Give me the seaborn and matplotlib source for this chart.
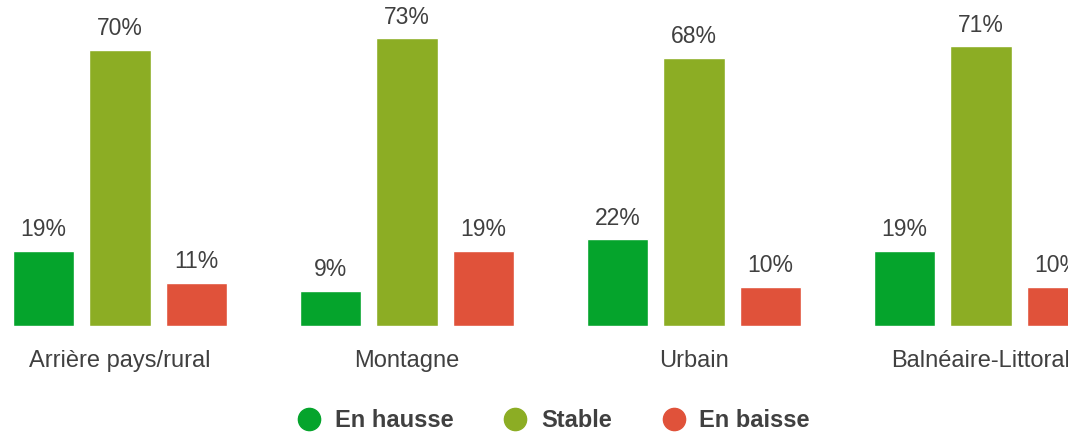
import matplotlib
matplotlib.use("Agg")
import matplotlib.pyplot as plt
from matplotlib.lines import Line2D
import seaborn as sns
import pandas as pd

# Evolution by destination type
zones = ["Arrière pays/rural", "Montagne", "Urbain", "Balnéaire-Littoral"]
tendances = ["En hausse", "Stable", "En baisse"]
en_hausse = [19, 9, 22, 19]
stable = [70, 73, 68, 71]
en_baisse = [11, 19, 10, 10]
couleurs = ["#05a42c", "#8cad24", "#e0523a"]

df = pd.DataFrame({
    "zone": zones * 3,
    "tendance": [t for t in tendances for _ in zones],
    "valeur": en_hausse + stable + en_baisse,
})

sns.set_theme(style="white")
plt.rcParams["font.family"] = ["Liberation Sans", "DejaVu Sans"]

fig = plt.figure(figsize=(10.68, 4.32), dpi=100)
ax = fig.add_axes([0, 106 / 432, 1, 326 / 432])

sns.barplot(data=df, x="zone", y="valeur", hue="tendance", order=zones,
            hue_order=tendances, palette=couleurs, gap=0.2, width=0.8,
            saturation=1, legend=False, ax=ax, err_kws={"linewidth": 0})

for cont in ax.containers:
    ax.bar_label(cont, labels=[f"{v:.0f}%" for v in cont.datavalues],
                 padding=7, fontsize=16.5, color="#404040")

ax.set_xlim(-120 / 287, (1068 - 120) / 287)
ax.set_ylim(0, 326 / 3.94)
ax.set_xlabel("")
ax.set_ylabel("")
ax.set_yticks([])
ax.tick_params(axis="x", length=0, pad=17, labelsize=17, labelcolor="#404040")
for s in ax.spines.values():
    s.set_visible(False)

handles = [Line2D([], [], linestyle="none", marker="o", markersize=16,
                  markerfacecolor=c, markeredgecolor=c) for c in couleurs]
leg = fig.legend(handles, tendances, loc="center", bbox_to_anchor=(0.513, 0.026),
                 ncol=3, frameon=False, handletextpad=0.1, columnspacing=1.6,
                 prop={"size": 17, "weight": "bold"})
for t in leg.get_texts():
    t.set_color("#404040")

fig.savefig("out.png", dpi=100)
